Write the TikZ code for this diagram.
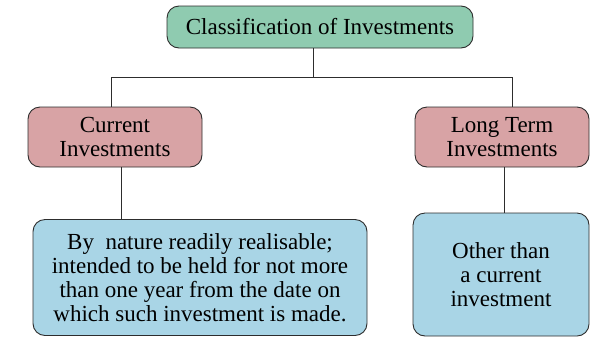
\documentclass[tikz,border=0pt]{standalone}
\usepackage{fontspec}
\setmainfont{Liberation Serif}
\definecolor{verde}{RGB}{143,203,176}
\definecolor{rosa}{RGB}{216,163,165}
\definecolor{celeste}{RGB}{169,213,230}
\definecolor{borde}{RGB}{45,45,45}
\begin{document}
\begin{tikzpicture}[x=1pt, y=-1pt,
  caja/.style={draw=borde, line width=0.9pt, rounded corners=12pt, align=center, inner sep=0pt,
    font=\fontsize{23}{24}\selectfont},
  linea/.style={draw=borde, line width=0.9pt}]
  \useasboundingbox (0,0) rectangle (593,338);
  \node[caja, fill=verde, minimum width=306pt, minimum height=42pt] (cls) at (320,27) {Classification of Investments};
  \node[caja, fill=rosa, minimum width=174pt, minimum height=60pt] (cur) at (115,137) {Current\\Investments};
  \node[caja, fill=rosa, minimum width=174pt, minimum height=60pt] (lt) at (502,137) {Long Term\\Investments};
  \node[caja, fill=celeste, minimum width=334pt, minimum height=116pt] (curd) at (200,277.5) {By~ nature readily realisable;\\intended to be held for not more\\than one year from the date on\\which such investment is made.};
  \node[caja, fill=celeste, minimum width=176pt, minimum height=123pt] (ltd) at (501,274.5) {Other than\\a current\\investment};
  \coordinate (split) at (313,77);
  \draw[linea] (cls.south -| split) -- (split);
  \draw[linea] (split) -| ([xshift=-4pt]cur.north);
  \draw[linea] (split) -| ([xshift=10pt]lt.north);
  \draw[linea] ([xshift=6pt]cur.south) -- ([xshift=6pt]cur.south |- curd.north);
  \draw[linea] ([xshift=2pt]lt.south) -- ([xshift=2pt]lt.south |- ltd.north);
\end{tikzpicture}
\end{document}
